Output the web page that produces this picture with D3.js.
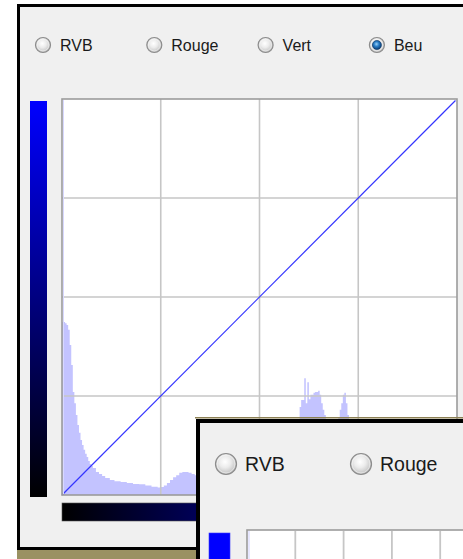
<!DOCTYPE html>
<html>
<head>
<meta charset="utf-8">
<script src="https://cdn.jsdelivr.net/npm/d3@7"></script>
<style>
  html, body { margin: 0; padding: 0; background: #ffffff; }
  svg { display: block; }
  text { font-family: "Liberation Sans", Arial, sans-serif; }
</style>
</head>
<body>
<svg id="chart" width="463" height="559"></svg>
<script>
// ---- data ----
const channels = ["RVB", "Rouge", "Vert", "Beu"];
const selectedChannel = "Beu";
const channels2 = ["RVB", "Rouge"];

// histogram of the blue channel (level -> relative count, 1000 = full plot height)
const levels = [0,1,2,3,4,5,6,7,8,9,10,11,12,13,14,15,16,17,18,19,20,22,24,26,28,31,34,38,42,46,50,54,58,62,64,66,68,70,72,74,76,78,80,82,84,86,88,92,100,110,120,130,140,148,152,154,155,157,158,159,160,161,163,164,166,167,168,169,170,171,172,173,176,178,179,180,181,182,183,184,185,186,187,195,210,230,255];
const counts = [437,437,434,429,417,379,328,260,232,202,177,157,139,126,114,104,96,86,78,73,68,58,53,48,43,38,35,33,30,28,27,24,21,19,20,24,30,38,45,50,56,58,58,56,53,50,48,45,40,36,34,38,45,60,150,222,240,295,232,285,242,253,258,260,263,253,232,215,202,182,152,100,120,177,197,215,232,253,258,232,202,152,60,30,20,12,5];

// tone curve (input -> output)
const curveIn = [0, 255];
const curveOut = [0, 255];

const gridTicks = [64, 128, 192];
const grid2Ticks = [1, 2, 3, 4, 5, 6, 7, 8, 9];

// ---- drawing ----
const svg = d3.select("#chart");
const defs = svg.append("defs");

function radial(id, stops) {
  const g = defs.append("radialGradient").attr("id", id)
    .attr("cx", "45%").attr("cy", "40%").attr("r", "60%");
  stops.forEach(s => g.append("stop").attr("offset", s[0]).attr("stop-color", s[1]));
}
radial("radioOff", [["0%", "#ffffff"], ["45%", "#ececec"], ["80%", "#cfcfcf"], ["100%", "#b4b4b4"]]);
radial("radioDot", [["0%", "#9ad0f7"], ["45%", "#2b7fc8"], ["100%", "#0a3a72"]]);

const vGrad = defs.append("linearGradient").attr("id", "vGrad")
  .attr("x1", 0).attr("y1", 0).attr("x2", 0).attr("y2", 1);
vGrad.append("stop").attr("offset", "0%").attr("stop-color", "#0000ff");
vGrad.append("stop").attr("offset", "100%").attr("stop-color", "#000000");
const hGrad = defs.append("linearGradient").attr("id", "hGrad")
  .attr("x1", 0).attr("y1", 0).attr("x2", 1).attr("y2", 0);
hGrad.append("stop").attr("offset", "0%").attr("stop-color", "#000000");
hGrad.append("stop").attr("offset", "100%").attr("stop-color", "#0000ff");

// main window frame
svg.append("rect").attr("x", 17).attr("y", 550).attr("width", 460).attr("height", 12).attr("fill", "#9a9162");
svg.append("rect").attr("x", 17).attr("y", 4).attr("width", 460).attr("height", 546).attr("fill", "#000");
svg.append("rect").attr("x", 20).attr("y", 7).attr("width", 460).attr("height", 540).attr("fill", "#f0f0f0");

function drawRadios(g, names, x0, step, cy, r, fontSize, textOffset, selected) {
  names.forEach((name, i) => {
    const cx = x0 + i * step;
    g.append("circle").attr("cx", cx).attr("cy", cy).attr("r", r)
      .attr("fill", "url(#radioOff)").attr("stroke", "#8c8c8c").attr("stroke-width", 1.2);
    g.append("circle").attr("cx", cx).attr("cy", cy).attr("r", r - 1.6)
      .attr("fill", "none").attr("stroke", "#ffffff").attr("stroke-opacity", 0.6).attr("stroke-width", 0.8);
    if (name === selected) {
      g.append("circle").attr("cx", cx).attr("cy", cy).attr("r", r * 0.6)
        .attr("fill", "url(#radioDot)").attr("stroke", "#0f3d70").attr("stroke-width", 0.7);
    }
    g.append("text").attr("x", cx + textOffset).attr("y", cy + fontSize * 0.36)
      .attr("font-size", fontSize).attr("fill", "#1a1a1a").text(name);
  });
}
drawRadios(svg, channels, 43, 111.3, 45, 7.5, 16, 17, selectedChannel);

// main plot
const P = { x0: 62, x1: 457, y0: 99, y1: 495 };
const x = d3.scaleLinear().domain([0, 256]).range([P.x0, P.x1]);
const y = d3.scaleLinear().domain([0, 256]).range([P.y1, P.y0]);
const yH = d3.scaleLinear().domain([0, 1000]).range([P.y1, P.y0]);

// gradient bars
svg.append("rect").attr("x", 30).attr("y", 101).attr("width", 17).attr("height", 396).attr("fill", "url(#vGrad)");
svg.append("rect").attr("x", P.x0).attr("y", 503).attr("width", P.x1 - P.x0).attr("height", 18)
  .attr("fill", "url(#hGrad)").attr("stroke", "#555").attr("stroke-width", 0.6);

svg.append("rect").attr("x", P.x0).attr("y", P.y0).attr("width", P.x1 - P.x0).attr("height", P.y1 - P.y0).attr("fill", "#fff");

defs.append("clipPath").attr("id", "plotClip").append("rect")
  .attr("x", P.x0).attr("y", P.y0).attr("width", P.x1 - P.x0).attr("height", P.y1 - P.y0);

const hist = levels.map((l, i) => ({ level: l, count: counts[i] }));
hist.push({ level: 256, count: counts[counts.length - 1] });
const area = d3.area()
  .x(d => x(d.level)).y0(yH(0)).y1(d => yH(d.count))
  .curve(d3.curveStepAfter);
const plotG = svg.append("g").attr("clip-path", "url(#plotClip)");
plotG.append("path").datum(hist).attr("d", area).attr("fill", "#c3c3ff");

// grid
plotG.selectAll(".vg").data(gridTicks).join("line")
  .attr("x1", d => x(d)).attr("x2", d => x(d)).attr("y1", P.y0).attr("y2", P.y1)
  .attr("stroke", "#c6c6c6").attr("stroke-width", 1.6);
plotG.selectAll(".hg").data(gridTicks).join("line")
  .attr("y1", d => y(d)).attr("y2", d => y(d)).attr("x1", P.x0).attr("x2", P.x1)
  .attr("stroke", "#c6c6c6").attr("stroke-width", 1.6);

// tone curve
const line = d3.line().x(d => x(d[0])).y(d => y(d[1]));
svg.append("path").datum(curveIn.map((v, i) => [v, curveOut[i]]))
  .attr("d", line).attr("fill", "none").attr("stroke", "#3434ff").attr("stroke-width", 1.2);

// plot border
svg.append("rect").attr("x", P.x0).attr("y", P.y0).attr("width", P.x1 - P.x0).attr("height", P.y1 - P.y0)
  .attr("fill", "none").attr("stroke", "#9c9c9c").attr("stroke-width", 1.6);
svg.append("line").attr("x1", P.x0 + 1.5).attr("x2", P.x0 + 1.5).attr("y1", P.y0 + 1).attr("y2", P.y1 - 1)
  .attr("stroke", "#d8d8ff").attr("stroke-width", 1);

// ---- second (overlapping) window ----
const w2 = svg.append("g");
w2.append("rect").attr("x", 195).attr("y", 417).attr("width", 280).attr("height", 1.5).attr("fill", "#8c8054");
w2.append("rect").attr("x", 196).attr("y", 419).attr("width", 280).attr("height", 150).attr("fill", "#000");
w2.append("rect").attr("x", 200).attr("y", 423).attr("width", 280).attr("height", 150).attr("fill", "#f0f0f0");
drawRadios(w2, channels2, 226, 135, 464, 10.5, 19.5, 19, null);

const P2 = { x0: 247, x1: 730, y0: 530 };
const x2 = d3.scaleLinear().domain([0, 10]).range([P2.x0, P2.x1]);
w2.append("rect").attr("x", 209).attr("y", 533).attr("width", 21).attr("height", 40).attr("fill", "#0000ff")
  .attr("stroke", "#3b3bff").attr("stroke-width", 0.6);
w2.append("rect").attr("x", P2.x0).attr("y", P2.y0).attr("width", P2.x1 - P2.x0).attr("height", 60)
  .attr("fill", "#fff").attr("stroke", "#9c9c9c").attr("stroke-width", 1.6);
w2.selectAll(".g2").data(grid2Ticks).join("line")
  .attr("x1", d => x2(d)).attr("x2", d => x2(d)).attr("y1", P2.y0 + 1).attr("y2", 575)
  .attr("stroke", "#c6c6c6").attr("stroke-width", 1.8);
w2.append("line").attr("x1", P2.x0 + 2).attr("x2", P2.x0 + 2).attr("y1", P2.y0 + 1).attr("y2", 575)
  .attr("stroke", "#d8d8ff").attr("stroke-width", 1.2);
</script>
</body>
</html>
